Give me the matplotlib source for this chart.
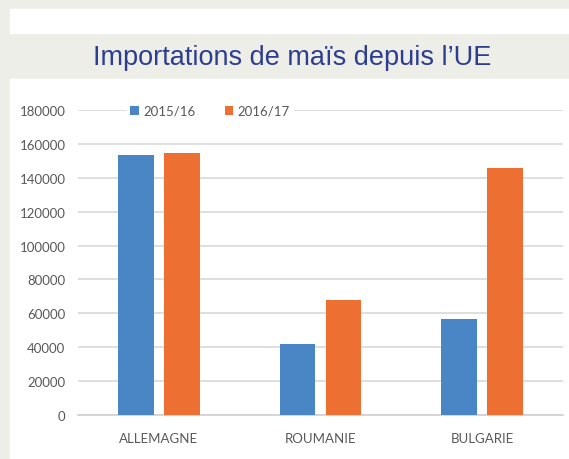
import matplotlib.pyplot as plt
import numpy as np
from matplotlib.patches import Rectangle

# Data
countries = ["ALLEMAGNE", "ROUMANIE", "BULGARIE"]
imports_1516 = [153500, 41800, 56900]
imports_1617 = [154500, 68000, 145700]
series_labels = ["2015/16", "2016/17"]
yticks = [0, 20000, 40000, 60000, 80000, 100000, 120000, 140000, 160000, 180000]

blue = "#4a86c6"
orange = "#ee6f32"
grey_bg = "#eeeee9"
tick_col = "#595959"

plt.rcParams['font.family'] = ['Lato', 'DejaVu Sans']

W, H = 569, 460
fig = plt.figure(figsize=(W / 100, H / 100), dpi=100, facecolor=grey_bg)

# White panels on top of grey background (pixel boxes -> figure coords)
def px_rect(x0, y0, x1, y1, color):
    fig.patches.append(Rectangle((x0 / W, 1 - y1 / H), (x1 - x0) / W, (y1 - y0) / H,
                                 transform=fig.transFigure, color=color, zorder=-5))

px_rect(10, 10, W, 34, "white")
px_rect(10, 80, W, H, "white")

fig.text(292 / W, 1 - 58 / H, "Importations de maïs depuis l\u2019UE",
         ha="center", va="center", fontsize=19.5, color="#2d3e91",
         family=['Liberation Sans Narrow', 'Liberation Sans', 'DejaVu Sans'])

ax = fig.add_axes([78 / W, 1 - 416 / H, (563 - 78) / W, (416 - 111) / H], zorder=2)
ax.set_facecolor("white")

x = np.arange(len(countries))
w = 0.22
off = 0.142
ax.bar(x - off, imports_1516, w, color=blue, label=series_labels[0], zorder=3)
ax.bar(x + off, imports_1617, w, color=orange, label=series_labels[1], zorder=3)

ax.set_xlim(-0.5, len(countries) - 0.5)
ax.set_ylim(0, 180000)
ax.set_yticks(yticks)
ax.set_yticklabels([str(v) for v in yticks])
ax.set_xticks(x)
ax.set_xticklabels(countries)
ax.yaxis.grid(True, color="#d9d9d9", linewidth=1.2, zorder=0)
ax.set_axisbelow(True)
for s in ["top", "right", "left"]:
    ax.spines[s].set_visible(False)
ax.spines["bottom"].set_color("#d0d0d0")
ax.spines["bottom"].set_linewidth(1.2)
ax.tick_params(axis="y", length=0, pad=9, labelsize=9.5, labelcolor=tick_col)
ax.tick_params(axis="x", length=0, pad=12, labelsize=9.5, labelcolor=tick_col)

leg = ax.legend(loc="center", bbox_to_anchor=(210 / W, 1 - 112 / H),
                bbox_transform=fig.transFigure, ncol=2, frameon=True,
                facecolor="white", edgecolor="white", framealpha=1,
                fontsize=9.5, handlelength=0.65, handleheight=0.65,
                handletextpad=0.35, columnspacing=2.2, borderpad=0.2,
                borderaxespad=0)
for t in leg.get_texts():
    t.set_color(tick_col)
leg.set_zorder(5)

fig.savefig("out.png", dpi=100, facecolor=grey_bg)
